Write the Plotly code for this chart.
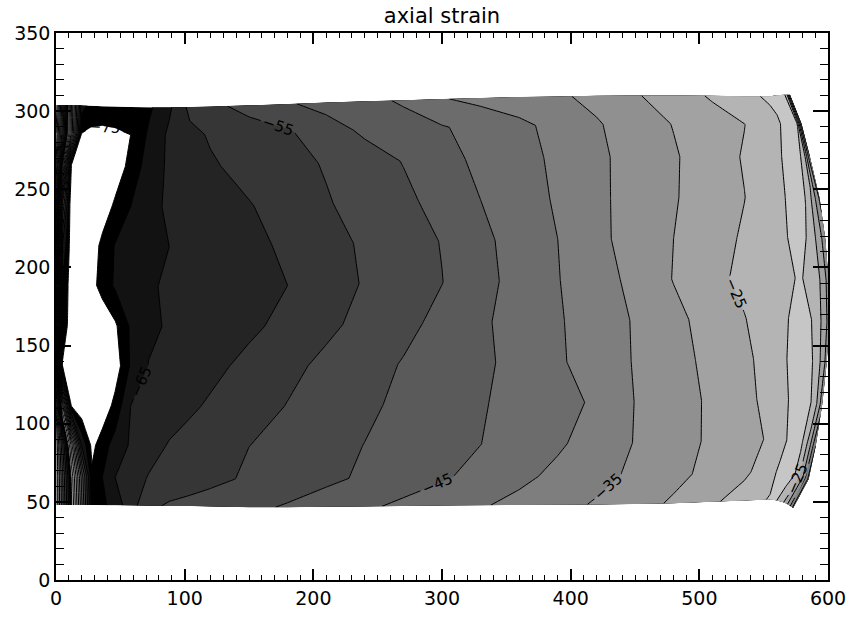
import numpy as np
import plotly.graph_objects as go

# ---- specimen mesh -------------------------------------------------------
# column positions (x) of the measurement grid, left edge to x=555
col_x = [0, 5, 12, 20, 28, 36, 46, 58, 72, 88, 104, 120, 150, 180, 210, 240,
         270, 300, 330, 360, 390, 420, 450, 480, 510, 535, 555]
# extra columns in the bulged right end: fraction of the way from x=555 to the edge
bulge_frac = [0.25, 0.5, 0.7, 0.85, 1.0]
# x of the bulged right edge for each grid row (bottom -> top)
edge_x = [573, 585, 590.5, 595.5, 599, 601, 600.5, 598, 593.5, 586, 579.5, 570.5]
# relative height of each grid row between the lower and upper specimen edges
row_frac = [0, 0.07, 0.15, 0.25, 0.35, 0.45, 0.55, 0.65, 0.75, 0.85, 0.93, 1.0]
# lower / upper specimen edge (y) for every grid column
bottom_y = [48, 48, 48, 48, 48, 47.9, 47.8, 47.7, 47.5, 47.4, 47.3, 47.1, 46.5,
            46.6, 46.8, 47.0, 47.3, 47.6, 47.8, 48, 48.1, 48.3, 48.6, 49.1, 50.0,
            50.8, 51.5, 51, 50, 49, 47.5, 46]
top_y = [304, 304, 304, 303.8, 303.5, 303.2, 303, 302.7, 302.5, 302.5, 302.7,
         303, 303.7, 304.5, 305.5, 306.3, 307, 307.8, 308.4, 309, 309.4, 309.8,
         310, 310, 309.8, 309.6, 309.5, 310, 310.3, 310.5, 310.5, 310.5]

# ---- axial strain on the grid, one list per row (bottom -> top) ----------
row_00 = [30, 12, -14, -44, -73, -71.2, -67.7, -62.2, -56.2, -54.3, -53.5, -52.7, -51.1, -49.5, -47.7, -45.8,
          -44.0, -42.2, -40.5, -38.6, -36.6, -34.5, -32.0, -29.3, -25.9, -22.3, -19.6, -19.5, -23, -28, -34, -42]
row_01 = [30, 11, -16, -47, -74, -70, -65, -62.3, -59.7, -58.6, -57.4, -56.3, -54.3, -52.7, -51.0, -49.3,
          -47.4, -45.6, -43.5, -41.2, -38.8, -36.5, -34.1, -31.4, -28.5, -26.1, -21.8, -19, -17.5, -21, -30, -42]
row_02 = [30, 6, -27, -65.5, -76.5, -72.2, -68, -64.4, -61.9, -59.6, -58.4, -57.2, -55.0, -53.3, -51.6, -49.9,
          -48.3, -46.7, -45.05, -42.9, -40.7, -37.9, -34.8, -32.0, -29.2, -26.8, -24.4, -21.7, -18, -19.6, -27, -40]
row_03 = [25, -25, -76.5, -80, -81, -79, -73.3, -65, -63.7, -62.2, -60.7, -59.4, -57.1, -54.8, -52.9, -50.9,
          -49.0, -47.2, -45.4, -43.5, -41.6, -39.3, -34.9, -32.1, -29.2, -26.4, -23.5, -21.4, -18, -18, -21.5, -33]
row_04 = [20, -75.5, -80, -82, -83, -82, -78, -69.3, -64.8, -63.6, -62.4, -61.2, -58.75, -56.25, -53.9, -51.8,
          -49.7, -47.8, -45.9, -43.6, -40.7, -37.7, -34.7, -31.7, -28.7, -26.1, -23.0, -20.7, -17, -18.5, -23, -32]
row_05 = [15, -70, -79, -81, -82, -80, -75.8, -69.3, -66.1, -64.4, -63.5, -62.6, -60.9, -58.7, -56.05, -53.6,
          -51.3, -48.7, -45.8, -43.1, -40.5, -37.6, -34.6, -31.3, -28.0, -25.2, -22.4, -20.8, -17.5, -20, -24.5, -32]
row_06 = [15, -70, -78, -80, -77, -72.5, -69.4, -67.6, -65.5, -64.4, -63.6, -62.9, -61.4, -60.0, -57.3, -54.6,
          -52.4, -50.1, -46.6, -43.3, -40.2, -37.1, -33.7, -29.8, -26.4, -23.8, -22.0, -21, -19.6, -21, -25, -32]
row_07 = [15, -65, -78, -80, -78.5, -73.2, -69.7, -68.3, -66.8, -65.0, -64.0, -63.05, -61.2, -59.2, -56.7, -54.3,
          -52.1, -49.8, -46.2, -43.0, -40.0, -36.25, -33.0, -30.0, -27.0, -24.4, -22.1, -20.9, -17.5, -20.8, -26, -33]
row_08 = [20, -50, -80, -80, -80.5, -79, -73.75, -70, -66.3, -64.3, -63.3, -62.2, -60.3, -57.9, -55.4, -53.2,
          -51.1, -48.3, -45.0, -42.3, -39.4, -36.1, -33.1, -30.4, -27.5, -25.1, -22.1, -20.7, -17.5, -19.8, -26, -36]
row_09 = [30, -14, -75, -79, -81, -81, -79, -72.9, -67.9, -64.1, -62.3, -60.6, -58.4, -56.6, -54.6, -52.2,
          -49.8, -46.7, -43.9, -41.6, -39.1, -36.0, -33.2, -30.5, -27.4, -24.6, -21.6, -20.5, -17.3, -18.5, -22, -40]
row_10 = [35, 7.5, -31, -75, -76, -76.5, -76, -75, -69.2, -64, -61.3, -59.5, -57.6, -55.6, -52.1, -49.1,
          -47.3, -45.4, -43.3, -41.1, -38.5, -35.5, -32.6, -29.8, -27.2, -25.1, -21.7, -20.7, -18.5, -17.5, -19.8, -42]
row_11 = [40, 12, -30, -68, -72, -71.5, -71.5, -71.5, -71, -65.9, -58.7, -56.4, -53.2, -50.5, -48.4, -46.6,
          -44.3, -40.3, -38.65, -37.2, -35.8, -33.6, -30.5, -27.5, -24.4, -21.3, -19.2, -18.5, -17.5, -18.5, -25, -40]

strain = np.array([row_00, row_01, row_02, row_03, row_04, row_05,
                   row_06, row_07, row_08, row_09, row_10, row_11])

# contour levels and the grey of each filled band (cycled)
level_start, level_end, level_step = -75, 45, 5
band_greys = [0, 18, 36, 54, 72, 90, 108, 126, 144, 162, 180, 198]

# ---- build the curvilinear mesh -----------------------------------------
n_rows = len(row_frac)
n_cols = len(col_x) + len(bulge_frac)
X = np.zeros((n_rows, n_cols))
Y = np.zeros((n_rows, n_cols))
for j in range(n_rows):
    xs = list(col_x) + [col_x[-1] + f * (edge_x[j] - col_x[-1]) for f in bulge_frac]
    X[j] = xs
    Y[j] = np.array(bottom_y) + row_frac[j] * (np.array(top_y) - np.array(bottom_y))

a_idx = list(range(n_cols))
b_idx = list(range(n_rows))

# ---- stepped grey colour scale: white below the first level -------------
nc = int(round((level_end - level_start) / level_step)) + 1
stop_colours = ["rgb(255,255,255)"] + [
    "rgb({0},{0},{0})".format(band_greys[i % len(band_greys)]) for i in range(nc)
]
colorscale = []
for k, c in enumerate(stop_colours):
    lo = max(0.0, (k - 0.5) / nc)
    hi = min(1.0, (k + 0.5) / nc)
    colorscale.append([lo, c])
    colorscale.append([hi, c])

hidden_axis = dict(smoothing=0, showgrid=False, showline=False, showticklabels="none",
                   startline=False, endline=False, minorgridcount=0,
                   gridcolor="rgba(0,0,0,0)", linecolor="rgba(0,0,0,0)")

label_font = dict(family="DejaVu Sans", size=15, color="black")

fig = go.Figure()
fig.add_trace(go.Carpet(
    a=a_idx, b=b_idx, x=X.tolist(), y=Y.tolist(), carpet="mesh",
    aaxis=hidden_axis, baxis=hidden_axis, color="rgba(0,0,0,0)",
))
# filled bands
fig.add_trace(go.Contourcarpet(
    carpet="mesh", a=a_idx, b=b_idx, z=strain.tolist(),
    autocontour=False,
    contours=dict(start=level_start, end=level_end, size=level_step,
                  coloring="fill", showlines=False),
    colorscale=colorscale, showscale=False, line=dict(width=0, smoothing=0),
    showlegend=False,
))
# unlabelled contour lines
fig.add_trace(go.Contourcarpet(
    carpet="mesh", a=a_idx, b=b_idx, z=strain.tolist(),
    autocontour=False,
    contours=dict(start=level_start + level_step, end=level_end, size=2 * level_step,
                  coloring="none", showlines=True),
    line=dict(color="black", width=1, smoothing=0), showscale=False,
    showlegend=False,
))
# labelled contour lines (every other level)
fig.add_trace(go.Contourcarpet(
    carpet="mesh", a=a_idx, b=b_idx, z=strain.tolist(),
    autocontour=False,
    contours=dict(start=level_start, end=level_end, size=2 * level_step,
                  coloring="none", showlines=True, showlabels=True,
                  labelfont=label_font),
    line=dict(color="black", width=1, smoothing=0), showscale=False,
    showlegend=False,
))

axis_common = dict(showgrid=False, zeroline=False, showline=True, linecolor="black",
                   linewidth=1.5, mirror="allticks", ticks="inside", tickcolor="black",
                   tickwidth=1.5, tickfont=dict(family="DejaVu Sans", size=19, color="black"))

fig.update_xaxes(range=[0, 600], tickmode="linear", tick0=0, dtick=100, ticklen=11,
                 minor=dict(dtick=10, ticklen=5, ticks="inside", tickcolor="black",
                            tickwidth=1.2, showgrid=False),
                 **axis_common)
fig.update_yaxes(range=[0, 350], tickmode="linear", tick0=0, dtick=50, ticklen=15,
                 minor=dict(dtick=10, ticklen=8, ticks="inside", tickcolor="black",
                            tickwidth=1.2, showgrid=False),
                 **axis_common)

fig.update_layout(
    width=858, height=621,
    margin=dict(l=56, r=26, t=33, b=38),
    paper_bgcolor="white", plot_bgcolor="white",
    showlegend=False, hovermode=False,
    title=dict(text="axial strain", x=0.5, xref="paper", xanchor="center",
               y=1 - 16 / 621, yref="container", yanchor="middle",
               font=dict(family="DejaVu Sans", size=21, color="black")),
)

fig.write_html("out.html")
